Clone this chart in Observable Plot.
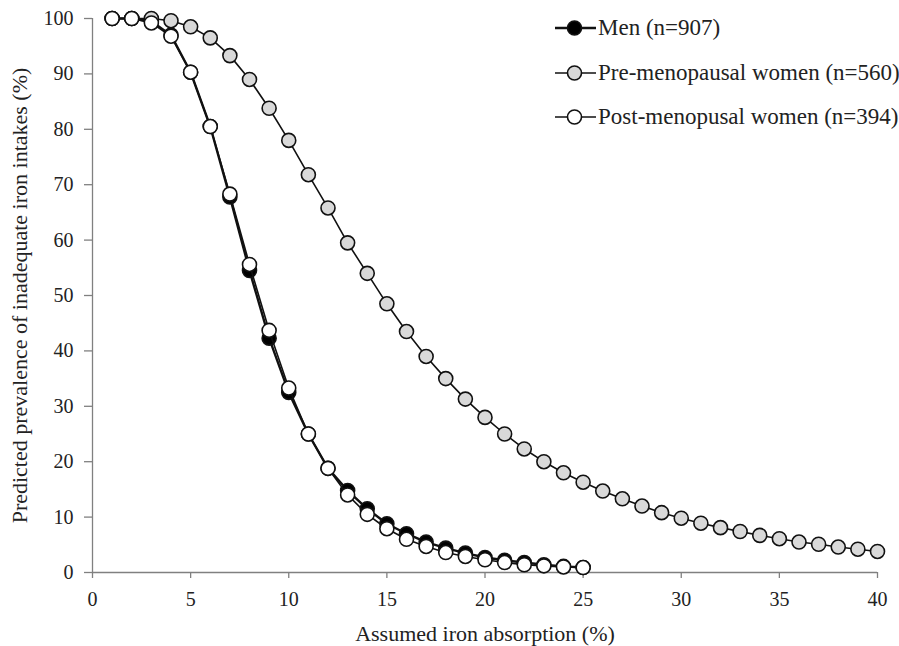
<!DOCTYPE html>
<html>
<head>
<meta charset="utf-8">
<script src="https://cdn.jsdelivr.net/npm/d3@7"></script>
<script src="https://cdn.jsdelivr.net/npm/@observablehq/plot@0.6"></script>
<style>
  body { margin: 0; background: #fff; }
  #wrap { position: relative; width: 899px; height: 646px; font-family: "Liberation Serif", "Times New Roman", serif; }
  #legend { position: absolute; left: 0; top: 0; font-size: 23px; color: #222; }
  #legend .row { position: absolute; display: flex; align-items: center; height: 30px; white-space: nowrap; }
  #legend svg { margin-right: 2px; }
</style>
</head>
<body>
<div id="wrap"><div id="legend"></div></div>
<script>
const absorption = [1,2,3,4,5,6,7,8,9,10,11,12,13,14,15,16,17,18,19,20,21,22,23,24,25,26,27,28,29,30,31,32,33,34,35,36,37,38,39,40];
const men  = [100,100,99.5,97,90.3,80.5,67.8,54.5,42.3,32.5,25,18.8,14.8,11.5,8.8,7,5.5,4.4,3.5,2.7,2.2,1.8,1.4,1.1,0.9];
const pre  = [100,100,100,99.6,98.5,96.5,93.3,89,83.8,78,71.8,65.8,59.5,54,48.5,43.5,39,35,31.3,28,25,22.3,20,18,16.3,14.7,13.3,12,10.8,9.8,8.9,8.1,7.4,6.7,6.1,5.5,5.1,4.6,4.2,3.8];
const post = [100,100,99.2,96.8,90.3,80.5,68.3,55.6,43.7,33.3,25,18.8,14,10.5,7.9,6,4.7,3.6,2.9,2.3,1.8,1.4,1.2,1.0,0.9];
const seriesNames = ["Men (n=907)", "Pre-menopausal women (n=560)", "Post-menopusal women (n=394)"];
const xTicks = [0,5,10,15,20,25,30,35,40];
const yTicks = [0,10,20,30,40,50,60,70,80,90,100];

const styles = [
  {fill: "#000000", lineWidth: 2.4},
  {fill: "#d9d9d9", lineWidth: 1.6},
  {fill: "#ffffff", lineWidth: 1.6}
];
const seriesValues = [men, pre, post];
const rows = seriesValues.flatMap((vals, i) => vals.map((v, j) => ({x: absorption[j], y: v, s: i})));

const marks = [
  Plot.ruleX([0], {y1: 0, y2: 100, stroke: "#808080", strokeWidth: 1.3}),
  Plot.ruleY([0], {x1: 0, x2: 40, stroke: "#808080", strokeWidth: 1.3}),
  Plot.axisY({ticks: yTicks, tickSize: 8, tickPadding: 11, stroke: "#808080", strokeWidth: 1.3, fontSize: 20, tickFormat: d => d, label: null}),
  Plot.axisY({ticks: [], label: "Predicted prevalence of inadequate iron intakes (%)", labelAnchor: "center", labelArrow: "none", labelOffset: 81, fontSize: 22}),
  Plot.axisX({ticks: xTicks, tickSize: 6, tickPadding: 13, stroke: "#808080", strokeWidth: 1.3, fontSize: 20, tickFormat: d => d, label: null}),
  Plot.axisX({ticks: [], label: "Assumed iron absorption (%)", labelAnchor: "center", labelArrow: "none", labelOffset: 68, fontSize: 22})
];
seriesValues.forEach((vals, i) => {
  const data = rows.filter(d => d.s === i);
  marks.push(Plot.line(data, {x: "x", y: "y", stroke: "#111", strokeWidth: styles[i].lineWidth}));
  marks.push(Plot.dot(data, {x: "x", y: "y", r: 7, fill: styles[i].fill, stroke: "#111", strokeWidth: 1.6}));
});

const chart = Plot.plot({
  width: 899,
  height: 646,
  marginLeft: 92,
  marginRight: 22,
  marginTop: 18,
  marginBottom: 74,
  style: {fontFamily: "'Liberation Serif', 'Times New Roman', serif", fontSize: "20px", color: "#222", background: "#fff"},
  x: {domain: [0, 40]},
  y: {domain: [0, 100]},
  marks
});
const wrap = document.getElementById("wrap");
wrap.insertBefore(chart, wrap.firstChild);

const legend = document.getElementById("legend");
const rowCenters = [28, 72.5, 117];
seriesNames.forEach((name, i) => {
  const row = document.createElement("div");
  row.className = "row";
  row.style.left = "555px";
  row.style.top = (rowCenters[i] - 15) + "px";
  row.innerHTML = `<svg width="41" height="20"><line x1="0" x2="41" y1="10" y2="10" stroke="#111" stroke-width="${styles[i].lineWidth}"/><circle cx="19.5" cy="10" r="7" fill="${styles[i].fill}" stroke="#111" stroke-width="1.6"/></svg><span>${name}</span>`;
  legend.appendChild(row);
});
</script>
</body>
</html>
